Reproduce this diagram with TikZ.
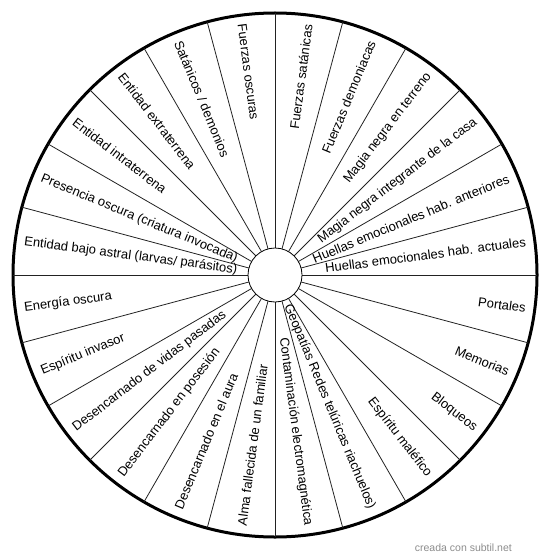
\documentclass[tikz,border=0pt]{standalone}
\usepackage{fontspec}
\setmainfont{Liberation Sans}
\usetikzlibrary{calc}
\definecolor{wmgray}{HTML}{8C8C8C}
\definecolor{spoke}{HTML}{222222}
\begin{document}
\begin{tikzpicture}[x=1pt,y=1pt,
  rimstyle/.style={circle,draw=black,line width=3,minimum size=524,inner sep=0,outer sep=0},
  hubstyle/.style={circle,draw=black,line width=0.8,fill=white,minimum size=54,inner sep=0,outer sep=0},
  spokestyle/.style={draw=spoke,line width=0.8},
  lbl/.style={inner sep=0,font=\fontsize{13}{15}\selectfont},
  wm/.style={inner sep=0,text=wmgray,font=\fontsize{10.5}{12}\selectfont}]
\useasboundingbox (0,0) rectangle (550,-559);
\coordinate (c) at (275,-275);
\node[rimstyle] (rim) at (c) {};
\foreach \a in {0,15,...,345}{
  \draw[spokestyle] (c) ++(\a:27) coordinate (s\a) -- (rim.\a);
}
\node[hubstyle] (hub) at (c) {};
% right half labels: anchor east, rotate by angle
\foreach \a/\t [count=\i] in {
  82.5/{Fuerzas satánicas},
  67.5/{Fuerzas demoniacas},
  52.5/{Magia negra en terreno},
  37.5/{Magia negra integrante de la casa},
  22.5/{Huellas emocionales hab. anteriores},
  7.5/{Huellas emocionales hab. actuales},
  -7.5/{Portales},
  -22.5/{Memorias},
  -37.5/{Bloqueos},
  -52.5/{Espíritu maléfico},
  -67.5/{Geopatías Redes telúricas riachuelos)},
  -82.5/{Contaminación electromagnética}}{
  \node[lbl,anchor=east,rotate=\a] (r\i) at ($(c)+(\a:253)$) {\t};
}
% left half labels: anchor west, rotate by angle-180
\foreach \a/\t [count=\i] in {
  97.5/{Fuerzas oscuras},
  112.5/{Satánicos / demonios},
  127.5/{Entidad extraterrena},
  142.5/{Entidad intraterrena},
  157.5/{Presencia oscura (criatura invocada)},
  172.5/{Entidad bajo astral (larvas/ parásitos)},
  187.5/{Energía oscura},
  202.5/{Espíritu invasor},
  217.5/{Desencarnado de vidas pasadas},
  232.5/{Desencarnado en posesión},
  247.5/{Desencarnado en el aura},
  262.5/{Alma fallecida de un familiar}}{
  \pgfmathsetmacro\rot{\a-180}
  \node[lbl,anchor=west,rotate=\rot] (l\i) at ($(c)+(\a:253)$) {\t};
}
\node[wm,anchor=base east] (mark) at (512,-551) {creada con subtil.net};
\end{tikzpicture}
\end{document}
